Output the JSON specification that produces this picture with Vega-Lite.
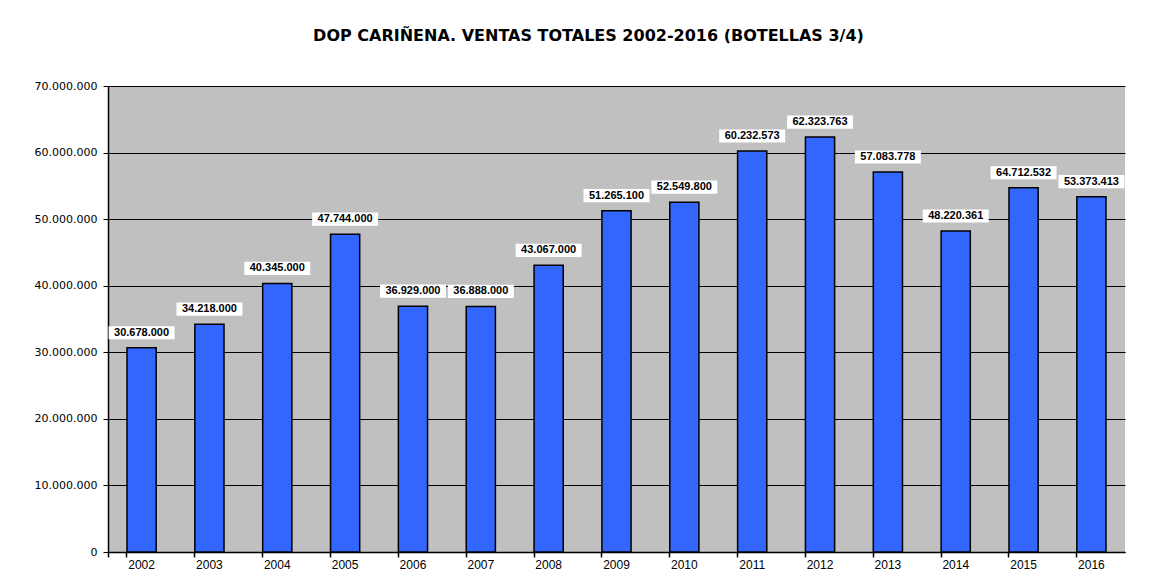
{
  "$schema": "https://vega.github.io/schema/vega-lite/v6.json",
  "autosize": "none",
  "width": 1017,
  "height": 466,
  "padding": {"left": 108, "top": 86, "right": 39, "bottom": 32},
  "background": "white",
  "config": {
    "locale": {"number": {"decimal": ",", "thousands": ".", "grouping": [3], "currency": ["", " €"]}},
    "view": {"stroke": null, "fill": "#C0C0C0"},
    "font": "Liberation Sans"
  },
  "title": {
    "text": "DOP CARIÑENA. VENTAS TOTALES 2002-2016 (BOTELLAS 3/4)",
    "font": "DejaVu Sans",
    "fontSize": 16,
    "fontWeight": "bold",
    "color": "#000000",
    "anchor": "middle",
    "dx": -28,
    "offset": 36
  },
  "data": {
    "values": [
      {"year": "2002", "ventas": 30678000, "etiqueta": "30.678.000"},
      {"year": "2003", "ventas": 34218000, "etiqueta": "34.218.000"},
      {"year": "2004", "ventas": 40345000, "etiqueta": "40.345.000"},
      {"year": "2005", "ventas": 47744000, "etiqueta": "47.744.000"},
      {"year": "2006", "ventas": 36929000, "etiqueta": "36.929.000"},
      {"year": "2007", "ventas": 36888000, "etiqueta": "36.888.000"},
      {"year": "2008", "ventas": 43067000, "etiqueta": "43.067.000"},
      {"year": "2009", "ventas": 51265100, "etiqueta": "51.265.100"},
      {"year": "2010", "ventas": 52549800, "etiqueta": "52.549.800"},
      {"year": "2011", "ventas": 60232573, "etiqueta": "60.232.573"},
      {"year": "2012", "ventas": 62323763, "etiqueta": "62.323.763"},
      {"year": "2013", "ventas": 57083778, "etiqueta": "57.083.778"},
      {"year": "2014", "ventas": 48220361, "etiqueta": "48.220.361"},
      {"year": "2015", "ventas": 54712532, "etiqueta": "64.712.532"},
      {"year": "2016", "ventas": 53373413, "etiqueta": "53.373.413"}
    ]
  },
  "layer": [
    {
      "mark": {"type": "bar", "fill": "#3366FF", "stroke": "#000000", "strokeWidth": 1.5},
      "encoding": {
        "x": {
          "field": "year",
          "type": "ordinal",
          "scale": {"paddingInner": 0.57, "paddingOuter": 0.28},
          "axis": {
            "title": null,
            "labelAngle": 0,
            "labelFont": "Liberation Sans",
            "labelFontSize": 12,
            "labelColor": "#000000",
            "labelPadding": 2,
            "bandPosition": 0,
            "ticks": true,
            "tickColor": "#000000",
            "tickSize": 5,
            "tickWidth": 1.5,
            "tickExtra": true,
            "domain": true,
            "domainColor": "#000000",
            "domainWidth": 1.5
          }
        },
        "y": {
          "field": "ventas",
          "type": "quantitative",
          "scale": {"domain": [0, 70000000], "nice": false},
          "axis": {
            "title": null,
            "values": [0, 10000000, 20000000, 30000000, 40000000, 50000000, 60000000, 70000000],
            "format": ",d",
            "labelFont": "DejaVu Sans",
            "labelFontSize": 11,
            "labelColor": "#000000",
            "labelPadding": 6,
            "tickColor": "#000000",
            "tickSize": 5,
            "domainColor": "#000000",
            "domainWidth": 1.5,
            "grid": true,
            "gridColor": "#000000",
            "gridWidth": 1,
            "gridOpacity": 1,
            "zindex": 0
          }
        }
      }
    },
    {
      "mark": {
        "type": "point",
        "shape": "M-1,-0.2L1,-0.2L1,0.2L-1,0.2Z",
        "filled": true,
        "color": "#FFFFFF",
        "opacity": 1,
        "size": 4356,
        "yOffset": -15
      },
      "encoding": {
        "x": {"field": "year", "type": "ordinal", "axis": {"title": null}},
        "y": {"field": "ventas", "type": "quantitative", "axis": {"title": null}}
      }
    },
    {
      "mark": {
        "type": "text",
        "font": "Liberation Sans",
        "fontSize": 11,
        "fontWeight": "bold",
        "color": "#000000",
        "baseline": "middle",
        "yOffset": -15
      },
      "encoding": {
        "x": {"field": "year", "type": "ordinal", "axis": {"title": null}},
        "y": {"field": "ventas", "type": "quantitative", "axis": {"title": null}},
        "text": {"field": "etiqueta"}
      }
    }
  ]
}
